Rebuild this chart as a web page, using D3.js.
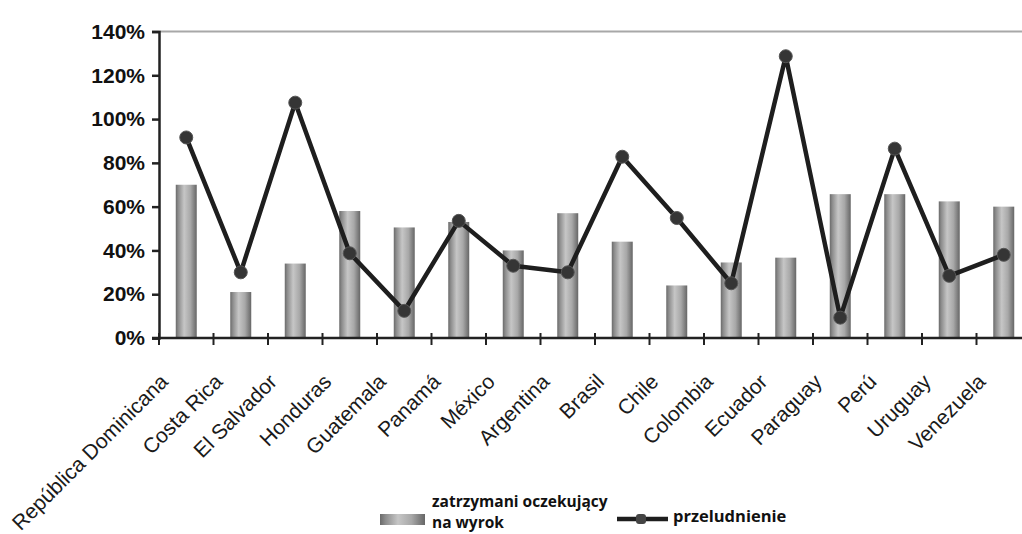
<!DOCTYPE html>
<html>
<head>
<meta charset="utf-8">
<script src="https://cdn.jsdelivr.net/npm/d3@7/dist/d3.min.js"></script>
<style>
  html, body { margin: 0; padding: 0; background: #fff; }
  svg { display: block; }
</style>
</head>
<body>
<svg id="chart" width="1022" height="534"></svg>
<script>
// Countries along the x axis
const countries = [
  "República Dominicana", "Costa Rica", "El Salvador", "Honduras", "Guatemala",
  "Panamá", "México", "Argentina", "Brasil", "Chile", "Colombia", "Ecuador",
  "Paraguay", "Perú", "Uruguay", "Venezuela"
];
// Share of detainees awaiting sentence (%)
const pretrial = [70, 21, 34, 58, 50.5, 53, 40, 57, 44, 24, 34.5, 36.7, 65.7, 65.7, 62.4, 60];
// Prison overcrowding (%)
const overcrowding = [91.6, 30, 107.5, 38.7, 12.4, 53.5, 33, 30, 82.8, 54.8, 25, 128.7, 9.3, 86.5, 28.4, 38];
// Y axis ticks (%)
const yTicks = [0, 20, 40, 60, 80, 100, 120, 140];

const legendBars = ["zatrzymani oczekujący", "na wyrok"];
const legendLine = "przeludnienie";

const svg = d3.select("#chart");
const W = 1022;

const x = d3.scaleBand().domain(countries).range([159, 1031]).paddingInner(0.615).paddingOuter(0.3075);
const y = d3.scaleLinear().domain([0, 140]).range([338, 31.5]);

// Bar fill: cylindrical grey shading
const defs = svg.append("defs");
const grad = defs.append("linearGradient").attr("id", "barGrad")
  .attr("x1", "0%").attr("x2", "100%").attr("y1", "0%").attr("y2", "0%");
[[0, "#6a6a6a"], [0.12, "#8c8c8c"], [0.4, "#c6c6c6"], [0.7, "#a8a8a8"], [1, "#666666"]]
  .forEach(([o, c]) => grad.append("stop").attr("offset", o).attr("stop-color", c));

// Top reference line at 140%
svg.append("line")
  .attr("x1", 159).attr("x2", W)
  .attr("y1", y(140)).attr("y2", y(140))
  .attr("stroke", "#a8a8a8").attr("stroke-width", 2);

// Bars
svg.append("g").selectAll("rect").data(countries).join("rect")
  .attr("x", d => x(d))
  .attr("y", (d, i) => y(pretrial[i]))
  .attr("width", x.bandwidth())
  .attr("height", (d, i) => y(0) - y(pretrial[i]))
  .attr("fill", "url(#barGrad)");

// Y axis
const yAxis = svg.append("g").attr("transform", "translate(159,0)")
  .call(d3.axisLeft(y).tickValues(yTicks).tickFormat(d => d + "%").tickSize(7).tickPadding(7));
yAxis.select(".domain").attr("stroke", "#222").attr("stroke-width", 2.5);
yAxis.selectAll(".tick line").attr("stroke", "#222").attr("stroke-width", 2.5);
yAxis.selectAll(".tick text")
  .attr("fill", "#111")
  .style("font-family", "'Liberation Sans', Arial, sans-serif")
  .style("font-weight", "bold")
  .style("font-size", "21px");

// X axis line with ticks between categories
const xg = svg.append("g");
xg.append("line").attr("x1", 152).attr("x2", W).attr("y1", y(0)).attr("y2", y(0))
  .attr("stroke", "#222").attr("stroke-width", 2.5);
const step = x.step();
xg.selectAll("line.tk").data(d3.range(countries.length + 1)).join("line")
  .attr("class", "tk")
  .attr("x1", i => 159 + i * step).attr("x2", i => 159 + i * step)
  .attr("y1", y(0) - 5).attr("y2", y(0) + 7)
  .attr("stroke", "#222").attr("stroke-width", 2);

// Rotated category labels
xg.selectAll("text").data(countries).join("text")
  .attr("transform", d => `translate(${x(d) + x.bandwidth() / 2 - 17},${y(0) + 45}) rotate(-45)`)
  .attr("text-anchor", "end")
  .attr("fill", "#1a1a1a")
  .style("font-family", "'Liberation Sans', Arial, sans-serif")
  .style("font-size", "21px")
  .text(d => d);

// Overcrowding line with markers
const cx = d => x(d) + x.bandwidth() / 2;
const line = d3.line().x((d, i) => cx(countries[i])).y(d => y(d));
svg.append("path").datum(overcrowding)
  .attr("d", line)
  .attr("fill", "none")
  .attr("stroke", "#1e1e1e")
  .attr("stroke-width", 4.5)
  .attr("stroke-linejoin", "round");
svg.append("g").selectAll("circle").data(overcrowding).join("circle")
  .attr("cx", (d, i) => cx(countries[i]))
  .attr("cy", d => y(d))
  .attr("r", 6.5)
  .attr("fill", "#353535")
  .attr("stroke", "#555")
  .attr("stroke-width", 1);

// Legend
const lg = svg.append("g");
lg.append("rect").attr("x", 380).attr("y", 514).attr("width", 45).attr("height", 11)
  .attr("fill", "url(#barGrad)");
lg.selectAll("text.bar").data(legendBars).join("text")
  .attr("class", "bar")
  .attr("x", 432).attr("y", (d, i) => 506.5 + i * 21.5)
  .attr("fill", "#111")
  .style("font-family", "'Open Sans', sans-serif")
  .style("font-weight", "bold")
  .style("font-size", "15.5px")
  .text(d => d);
lg.append("line").attr("x1", 617).attr("x2", 668).attr("y1", 519).attr("y2", 519)
  .attr("stroke", "#1e1e1e").attr("stroke-width", 4.5);
lg.append("rect").attr("x", 636).attr("y", 514).attr("width", 10).attr("height", 10).attr("rx", 3)
  .attr("fill", "#444");
lg.append("text").attr("x", 673).attr("y", 522)
  .attr("fill", "#111")
  .style("font-family", "'Open Sans', sans-serif")
  .style("font-weight", "bold")
  .style("font-size", "16.5px")
  .text(legendLine);
</script>
</body>
</html>
